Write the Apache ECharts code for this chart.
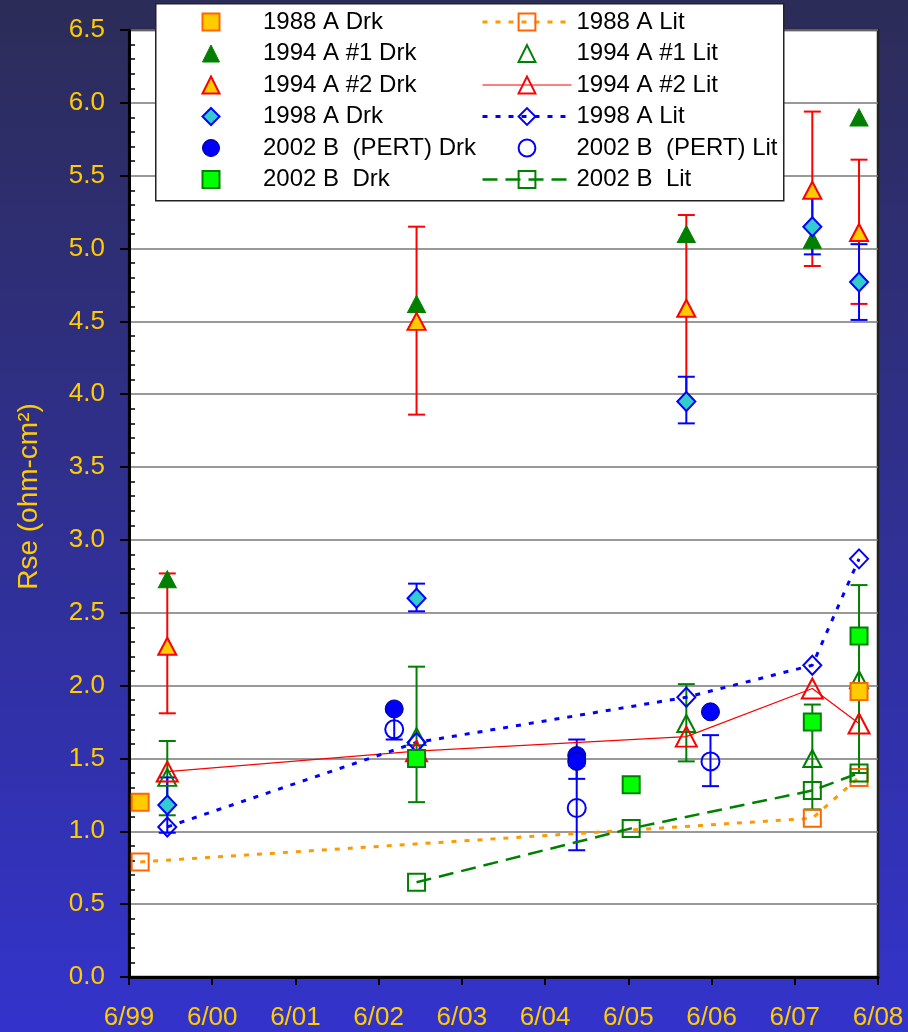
<!DOCTYPE html>
<html>
<head>
<meta charset="utf-8">
<script src="https://cdn.jsdelivr.net/npm/echarts@6.0.0/dist/echarts.min.js"></script>
<style>
  html, body { margin: 0; padding: 0; background: #2d2d66; }
  #chart { width: 908px; height: 1032px; }
</style>
</head>
<body>
<div id="chart"></div>
<script>
// ---- measurement data: [date, Rse] and error ranges [date, low, high] ----
const drk1988 = [['1999-07-20', 1.20], ['2008-03-09', 1.96]];
const lit1988 = [['1999-07-20', 0.79], ['2007-08-17', 1.09], ['2008-03-09', 1.37]];

const drk1994a1 = [['1999-11-16', 2.73], ['2002-11-14', 4.62], ['2006-02-10', 5.10], ['2007-08-17', 5.06], ['2008-03-09', 5.90]];
const lit1994a1 = [['1999-11-16', 1.37], ['2002-11-14', 1.65], ['2006-02-10', 1.74], ['2007-08-17', 1.50], ['2008-03-09', 2.04]];
const lit1994a1Err = [['1999-11-16', 1.11, 1.62], ['2002-11-14', 1.20, 2.13], ['2006-02-10', 1.48, 2.01], ['2007-08-17', 1.15, 1.87], ['2008-03-09', 1.40, 2.69]];

const drk1994a2 = [['1999-11-16', 2.27], ['2002-11-14', 4.50], ['2006-02-10', 4.59], ['2007-08-17', 5.40], ['2008-03-09', 5.11]];
const drk1994a2Err = [['1999-11-16', 1.81, 2.77], ['2002-11-14', 3.86, 5.15], ['2006-02-10', 3.95, 5.23], ['2007-08-17', 4.88, 5.94], ['2008-03-09', 4.62, 5.61]];
const lit1994a2 = [['1999-11-16', 1.41], ['2002-11-14', 1.55], ['2006-02-10', 1.65], ['2007-08-17', 1.98], ['2008-03-09', 1.74]];

const drk1998 = [['1999-11-16', 1.18], ['2002-11-14', 2.60], ['2006-02-10', 3.95], ['2007-08-17', 5.15], ['2008-03-09', 4.77]];
const drk1998Err = [['1999-11-16', 0.99, 1.37], ['2002-11-14', 2.51, 2.70], ['2006-02-10', 3.80, 4.12], ['2007-08-17', 4.96, 5.35], ['2008-03-09', 4.51, 5.03]];
const lit1998 = [['1999-11-16', 1.03], ['2002-11-14', 1.61], ['2006-02-10', 1.92], ['2007-08-17', 2.14], ['2008-03-09', 2.87]];

const drkPert = [['2002-08-08', 1.84], ['2004-10-17', 1.52], ['2004-10-17', 1.48], ['2006-05-27', 1.82]];
const drkPertErr = [['2004-10-17', 1.36, 1.63]];
const litPert = [['2002-08-08', 1.70], ['2004-10-17', 1.16], ['2006-05-27', 1.48]];
const litPertErr = [['2002-08-08', 1.63, 1.82], ['2004-10-17', 0.87, 1.45], ['2006-05-27', 1.31, 1.66]];

const drk2002 = [['2002-11-14', 1.50], ['2005-06-13', 1.32], ['2007-08-17', 1.75], ['2008-03-09', 2.34]];
const lit2002 = [['2002-11-14', 0.65], ['2005-06-13', 1.02], ['2007-08-17', 1.28], ['2008-03-09', 1.40]];

// ---- axis labels ----
const xTickLabels = ['6/99', '6/00', '6/01', '6/02', '6/03', '6/04', '6/05', '6/06', '6/07', '6/08'];
const drkNames = ['1988 A Drk', '1994 A #1 Drk', '1994 A #2 Drk', '1998 A Drk', '2002 B  (PERT) Drk', '2002 B  Drk'];
const litNames = ['1988 A Lit', '1994 A #1 Lit', '1994 A #2 Lit', '1998 A Lit', '2002 B  (PERT) Lit', '2002 B  Lit'];

// x values are years elapsed since June 1999
const AXIS_START = Date.UTC(1999, 5, 1);
const YEAR_MS = 365.25 * 864e5;
const yr = d => (Date.parse(d) - AXIS_START) / YEAR_MS;
const pts = arr => arr.map(([d, v]) => [yr(d), v]);

const FONT = '"Liberation Sans", Arial, sans-serif';
const GOLD = '#FFCC00';
const NONE = 'rgba(255,255,255,0)';

function drkSeries(name, data, symbol, size, fill, border, bw) {
  return {
    name, type: 'scatter', z: 4, data: pts(data), symbol, symbolSize: size,
    itemStyle: { color: fill, borderColor: border, borderWidth: bw, opacity: 1 },
    emphasis: { disabled: true }
  };
}

function litSeries(name, data, symbol, size, color, line) {
  return {
    name, type: 'line', z: 3, data: pts(data), symbol, symbolSize: size,
    showAllSymbol: true,
    itemStyle: { color: NONE, borderColor: color, borderWidth: 2 },
    lineStyle: line,
    emphasis: { disabled: true }
  };
}

function errSeries(data, color) {
  return {
    type: 'custom', z: 2, silent: true,
    data: data.map(([d, lo, hi]) => [yr(d), lo, hi]),
    encode: { x: 0, y: [1, 2] },
    renderItem(params, api) {
      const x = api.value(0);
      const lo = api.coord([x, api.value(1)]);
      const hi = api.coord([x, api.value(2)]);
      const w = 8.5;
      const style = { stroke: color, lineWidth: 2 };
      return {
        type: 'group',
        children: [
          { type: 'line', shape: { x1: lo[0], y1: lo[1], x2: hi[0], y2: hi[1] }, style },
          { type: 'line', shape: { x1: lo[0] - w, y1: lo[1], x2: lo[0] + w, y2: lo[1] }, style },
          { type: 'line', shape: { x1: hi[0] - w, y1: hi[1], x2: hi[0] + w, y2: hi[1] }, style }
        ]
      };
    }
  };
}

const legendText = { fontSize: 24, color: '#000', fontFamily: FONT };

const option = {
  animation: false,
  backgroundColor: {
    type: 'linear', x: 0, y: 0, x2: 0, y2: 1,
    colorStops: [{ offset: 0, color: '#2c2c58' }, { offset: 1, color: '#3333cc' }]
  },
  grid: {
    left: 129, right: 30, top: 30, bottom: 55,
    show: true, backgroundColor: '#fff', borderColor: '#222', borderWidth: 2.5,
    containLabel: false, outerBoundsMode: 'none'
  },
  xAxis: {
    type: 'value', min: 0, max: 9, interval: 1,
    axisLine: { show: true, onZero: false, lineStyle: { color: '#000', width: 3 } },
    axisTick: { show: true, length: 8, lineStyle: { color: '#000', width: 2 } },
    splitLine: { show: false },
    axisLabel: {
      color: GOLD, fontSize: 26, fontFamily: FONT, margin: 28,
      formatter: v => xTickLabels[Math.round(v)] || ''
    }
  },
  yAxis: [
    {
      type: 'value', min: 0, max: 6.5, interval: 0.5, position: 'left',
      name: 'Rse (ohm-cm²)', nameLocation: 'middle', nameGap: 86, nameMoveOverlap: false,
      nameTextStyle: { color: GOLD, fontSize: 28, fontFamily: FONT, padding: [0, 0, 0, 14] },
      axisLine: { show: true, onZero: false, lineStyle: { color: '#000', width: 3 } },
      axisTick: { show: true, length: 9, lineStyle: { color: '#000', width: 2 } },
      splitLine: { show: true, lineStyle: { color: '#777', width: 1.5 } },
      axisLabel: {
        color: GOLD, fontSize: 26, fontFamily: FONT, margin: 24,
        formatter: v => v.toFixed(1)
      }
    },
    {
      // inner minor ticks along the value axis
      type: 'value', min: 0, max: 6.5, interval: 0.5, position: 'left',
      axisLine: { show: false },
      axisTick: { show: false, inside: true },
      minorTick: { show: true, splitNumber: 5, length: 6, lineStyle: { color: '#000', width: 1.5 } },
      splitLine: { show: false },
      axisLabel: { show: false }
    }
  ],
  graphic: [{
    type: 'rect', left: 155, top: 3, z: 10,
    shape: { width: 628, height: 197 },
    style: { fill: '#fff', stroke: '#222', lineWidth: 1.5 }
  }],
  legend: [
    {
      data: drkNames, orient: 'vertical', left: 201.5, top: 10, z: 11,
      itemWidth: 17, itemHeight: 17, itemGap: 7.5, padding: 0, selectedMode: false,
      symbolKeepAspect: true,
      itemStyle: { borderWidth: 'inherit' },
      formatter: name => '{s| }' + name,
      textStyle: Object.assign({ rich: { s: { width: 38.5, fontSize: 24 } } }, legendText)
    },
    {
      data: litNames, orient: 'vertical', left: 481, top: 10, z: 11,
      itemWidth: 89, itemHeight: 21, itemGap: 7.5, padding: 0, selectedMode: false,
      itemStyle: { borderWidth: 'inherit' },
      lineStyle: { width: 'inherit' },
      textStyle: legendText
    }
  ],
  series: [
    errSeries(lit1994a1Err, '#008000'),
    errSeries(drk1994a2Err, '#FF0000'),
    errSeries(drk1998Err, '#0000FF'),
    errSeries(drkPertErr, '#0000FF'),
    errSeries(litPertErr, '#0000FF'),

    drkSeries('1988 A Drk', drk1988, 'rect', 17, '#FFCC00', '#FF6600', 2),
    litSeries('1988 A Lit', lit1988, 'rect', 17, '#FF6600', { color: '#FF9900', width: 3, type: [5, 8] }),
    drkSeries('1994 A #1 Drk', drk1994a1, 'triangle', [18, 17], '#008000', '#008000', 1),
    litSeries('1994 A #1 Lit', lit1994a1, 'triangle', [18, 17], '#008000', { width: 0, opacity: 0 }),
    drkSeries('1994 A #2 Drk', drk1994a2, 'triangle', [18, 17], '#FFCC00', '#FF0000', 2),
    litSeries('1994 A #2 Lit', lit1994a2, 'triangle', [21, 20], '#FF0000', { color: '#FF0000', width: 1.2 }),
    drkSeries('1998 A Drk', drk1998, 'diamond', [18, 19], '#33CCCC', '#0000FF', 2),
    litSeries('1998 A Lit', lit1998, 'diamond', [18, 19], '#0000FF', { color: '#0000FF', width: 3, type: [5, 8] }),
    drkSeries('2002 B  (PERT) Drk', drkPert, 'circle', 18, '#0000FF', '#000080', 1),
    litSeries('2002 B  (PERT) Lit', litPert, 'circle', 18, '#0000FF', { width: 0, opacity: 0 }),
    drkSeries('2002 B  Drk', drk2002, 'rect', 17, '#00FF00', '#008000', 2),
    litSeries('2002 B  Lit', lit2002, 'rect', 17, '#008000', { color: '#008000', width: 2.5, type: [15, 8] })
  ]
};

const chart = echarts.init(document.getElementById('chart'), null, { renderer: 'canvas' });
chart.setOption(option);
</script>
</body>
</html>
